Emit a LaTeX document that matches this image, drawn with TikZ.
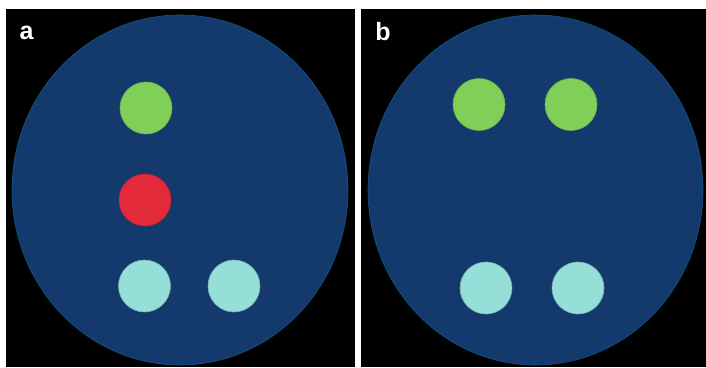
\documentclass[tikz,border=0pt]{standalone}
\usepackage{fontspec}
\setmainfont{Liberation Sans}
\definecolor{bgblue}{HTML}{143A6D}
\definecolor{dotgreen}{HTML}{80CF58}
\definecolor{dotred}{HTML}{E22A3A}
\definecolor{dotcyan}{HTML}{95DFD8}
\begin{document}
\begin{tikzpicture}[x=1pt,y=-1pt,
  panel/.style={fill=black,draw=none},
  dish/.style={fill=bgblue,draw=bgblue!85!cyan,line width=0.6pt},
  dot/.style={circle,minimum size=52pt,inner sep=0pt,line width=0.6pt},
  gdot/.style={dot,fill=dotgreen,draw=dotgreen!85!black},
  rdot/.style={dot,fill=dotred,draw=dotred!85!black},
  cdot/.style={dot,fill=dotcyan,draw=dotcyan!80!black},
  lbl/.style={text=white,font=\fontsize{25}{25}\selectfont\bfseries,inner sep=0pt}]
\fill[white] (0,0) rectangle (706,367);
\useasboundingbox (0,0) rectangle (706,367);
\fill[panel] (6,9) rectangle (355,367);
\fill[panel] (361,9) rectangle (706,367);
\draw[dish] (180,190) ellipse [x radius=168, y radius=175];
\draw[dish] (535.5,190) ellipse [x radius=167.5, y radius=175];
\node[lbl] (la) at (26.5,32.5) {a};
\node[lbl] (lb) at (383,32) {b};
\node[gdot] (a1) at (146,108) {};
\node[rdot] (a2) at (145,200) {};
\node[cdot] (a3) at (144.5,286) {};
\node[cdot] (a4) at (234,286) {};
\node[gdot] (b1) at (479,104.5) {};
\node[gdot] (b2) at (571,104.5) {};
\node[cdot] (b3) at (486,288) {};
\node[cdot] (b4) at (578,288) {};
\end{tikzpicture}
\end{document}
